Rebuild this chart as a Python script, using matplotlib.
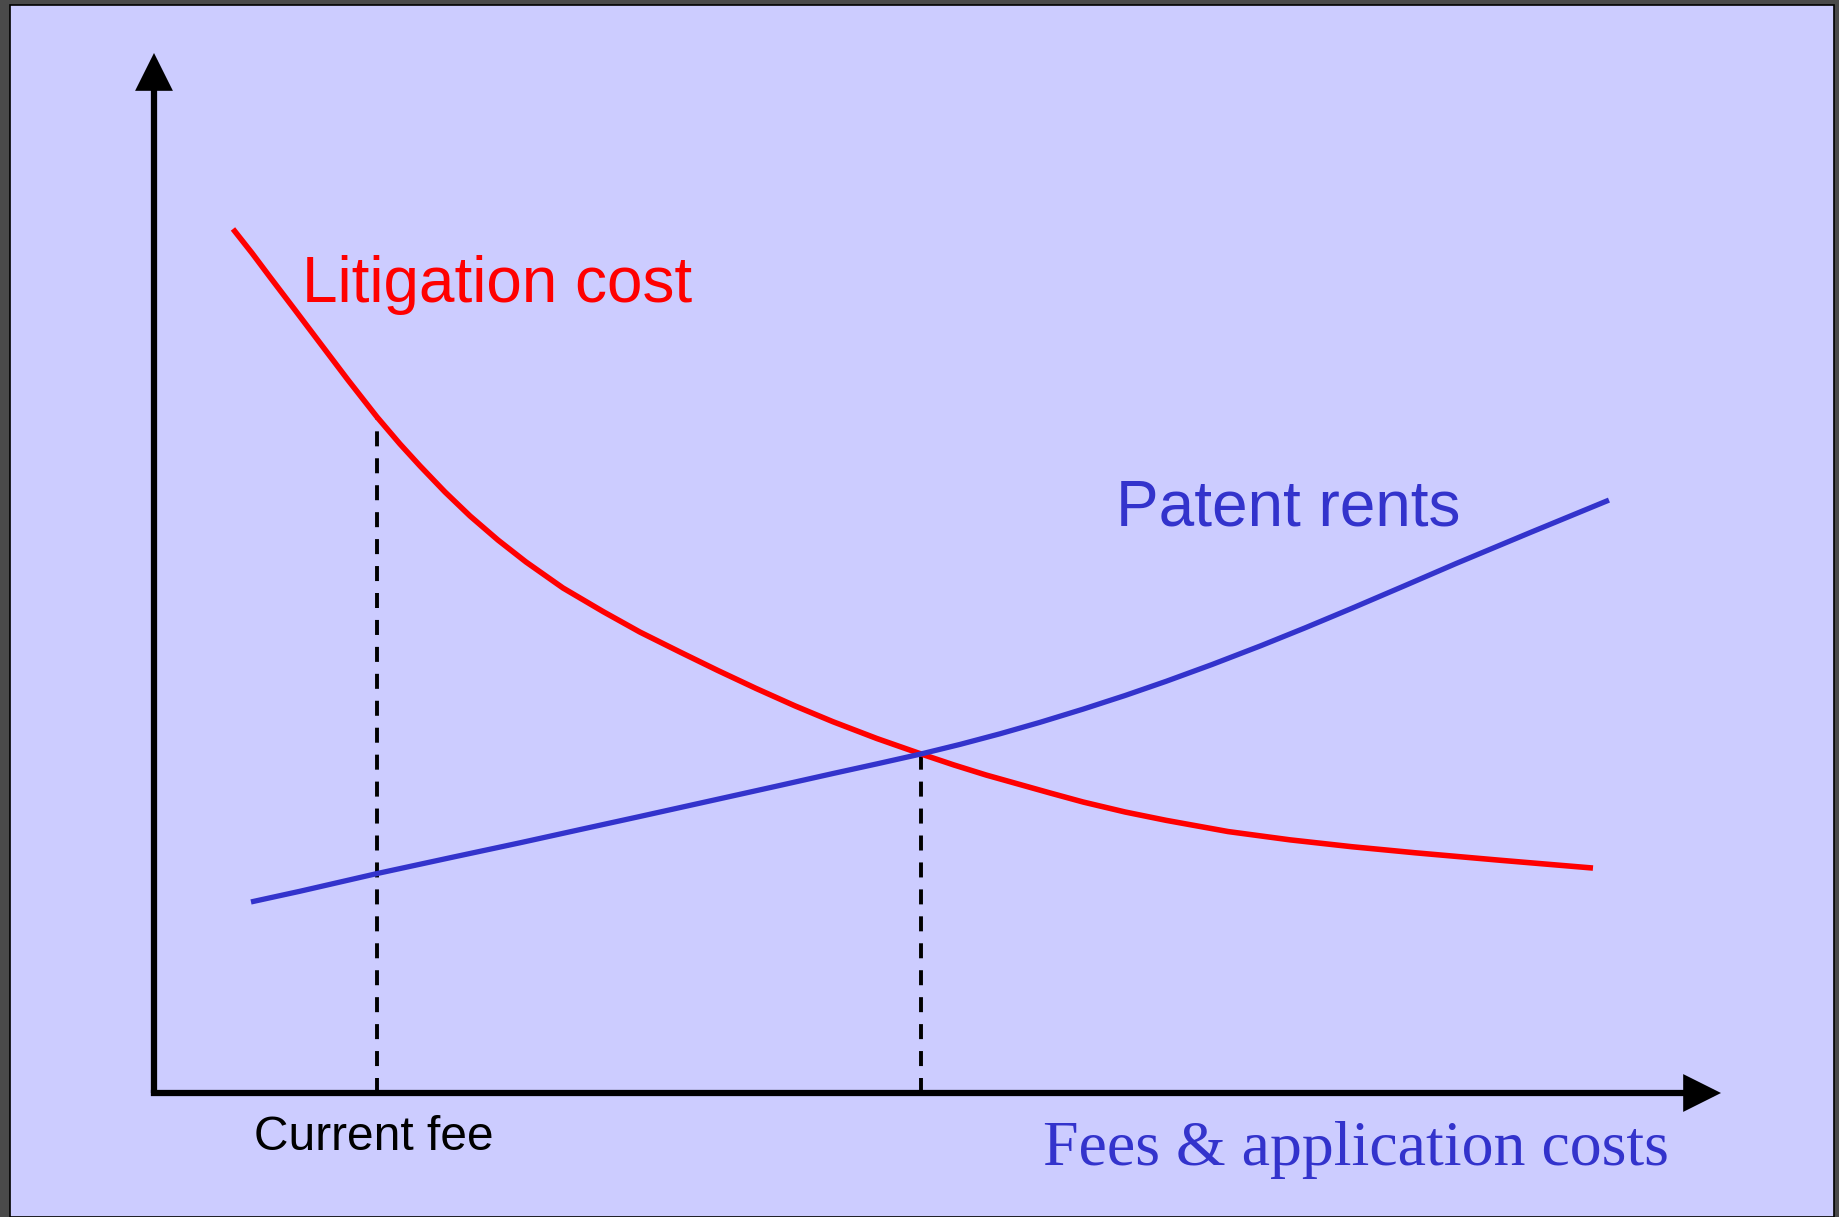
import numpy as np
import matplotlib
matplotlib.use('Agg')
import matplotlib.pyplot as plt
from matplotlib.patches import Rectangle

# schematic data (fee level on x, cost / rent on y, both 0-100)
litigation_x = [5.04, 6.25, 7.40, 9.00, 10.59, 12.38, 14.23, 15.70, 16.98, 18.57,
                20.17, 21.95, 23.74, 26.10, 28.65, 31.01, 33.57, 35.99, 38.42, 40.91,
                43.33, 46.14, 48.95, 51.05, 53.09, 57.18, 59.29, 61.97, 64.58, 68.54,
                72.50, 76.45, 80.47, 85.90, 91.83]
litigation_y = [83.08, 80.77, 78.46, 75.29, 72.12, 68.56, 65.00, 62.40, 60.29, 57.79,
                55.48, 53.17, 51.06, 48.56, 46.30, 44.32, 42.40, 40.62, 38.90, 37.22,
                35.70, 34.08, 32.60, 31.54, 30.58, 28.85, 27.98, 27.02, 26.22, 25.14,
                24.34, 23.68, 23.10, 22.38, 21.63]

rents_x = [6.19, 9.32, 14.23, 18.89, 23.36, 27.19, 31.01, 35.74, 39.63, 43.33,
           46.14, 48.95, 51.44, 53.99, 56.54, 59.29, 61.97, 64.58, 67.52, 70.64,
           73.45, 76.45, 79.83, 83.09, 87.81, 92.85]
rents_y = [18.37, 19.40, 21.10, 22.62, 24.06, 25.33, 26.59, 28.17, 29.47, 30.72,
           31.65, 32.60, 33.52, 34.54, 35.64, 36.91, 38.22, 39.58, 41.20, 43.01,
           44.72, 46.61, 48.79, 50.91, 53.88, 57.01]

current_fee = 14.23
crossing_fee = 48.95

RED = '#ff0000'
BLUE = '#3333cc'
BG = '#ccccff'

plt.rcParams['lines.scale_dashes'] = False

W, H = 1839, 1217
fig = plt.figure(figsize=(W / 100, H / 100), dpi=100, facecolor='#4a4a4a')

# lavender slide panel
fig.patches.append(Rectangle((9.5 / W, 0), (1834 - 9.5) / W, (H - 5) / H,
                             transform=fig.transFigure, facecolor=BG,
                             edgecolor='black', lw=1.2, zorder=-10))

ax = fig.add_axes([154 / W, (H - 1093) / H, (1721 - 154) / W, (1093 - 53) / H])
ax.set_zorder(5)
ax.set_xlim(0, 100)
ax.set_ylim(0, 100)
ax.axis('off')
ax.patch.set_alpha(0)

# axes with arrow heads
arrow = dict(arrowstyle='-|>,head_length=1.9,head_width=0.95', mutation_scale=10.5,
             lw=4.5, color='black', shrinkA=0, shrinkB=0, joinstyle='miter',
             capstyle='butt')
ax.annotate('', xy=(100, 0), xytext=(-0.2, 0), arrowprops=arrow, annotation_clip=False)
ax.annotate('', xy=(0, 100), xytext=(0, 0), arrowprops=arrow, annotation_clip=False)

# curves
ax.plot(litigation_x, litigation_y, color=RED, lw=4, solid_capstyle='butt',
        solid_joinstyle='round', clip_on=False)
ax.plot(rents_x, rents_y, color=BLUE, lw=3.8, solid_capstyle='butt',
        solid_joinstyle='round', clip_on=False)

# dashed drop lines
top1 = litigation_y[litigation_x.index(current_fee)]
top2 = litigation_y[litigation_x.index(crossing_fee)]
ax.plot([current_fee, current_fee], [0, top1], color='black', lw=2.8,
        linestyle=(0, (10.8, 8.6)), zorder=1)
ax.plot([crossing_fee, crossing_fee], [0, top2], color='black', lw=2.8,
        linestyle=(0, (10.8, 8.6)), zorder=1)

sans = 'Liberation Sans'
ax.text(9.43, 76.06, 'Litigation cost', color=RED, fontsize=46, family=sans,
        va='baseline', ha='left')
ax.text(61.4, 54.6, 'Patent rents', color=BLUE, fontsize=46, family=sans,
        va='baseline', ha='left')
ax.text(6.35, -5.48, 'Current fee', color='black', fontsize=34.5, family=sans,
        va='baseline', ha='left')
ax.text(56.75, -6.92, 'Fees & application costs', color=BLUE, fontsize=46,
        family='Liberation Serif', va='baseline', ha='left')

fig.savefig('out.png', dpi=100, facecolor=fig.get_facecolor())
